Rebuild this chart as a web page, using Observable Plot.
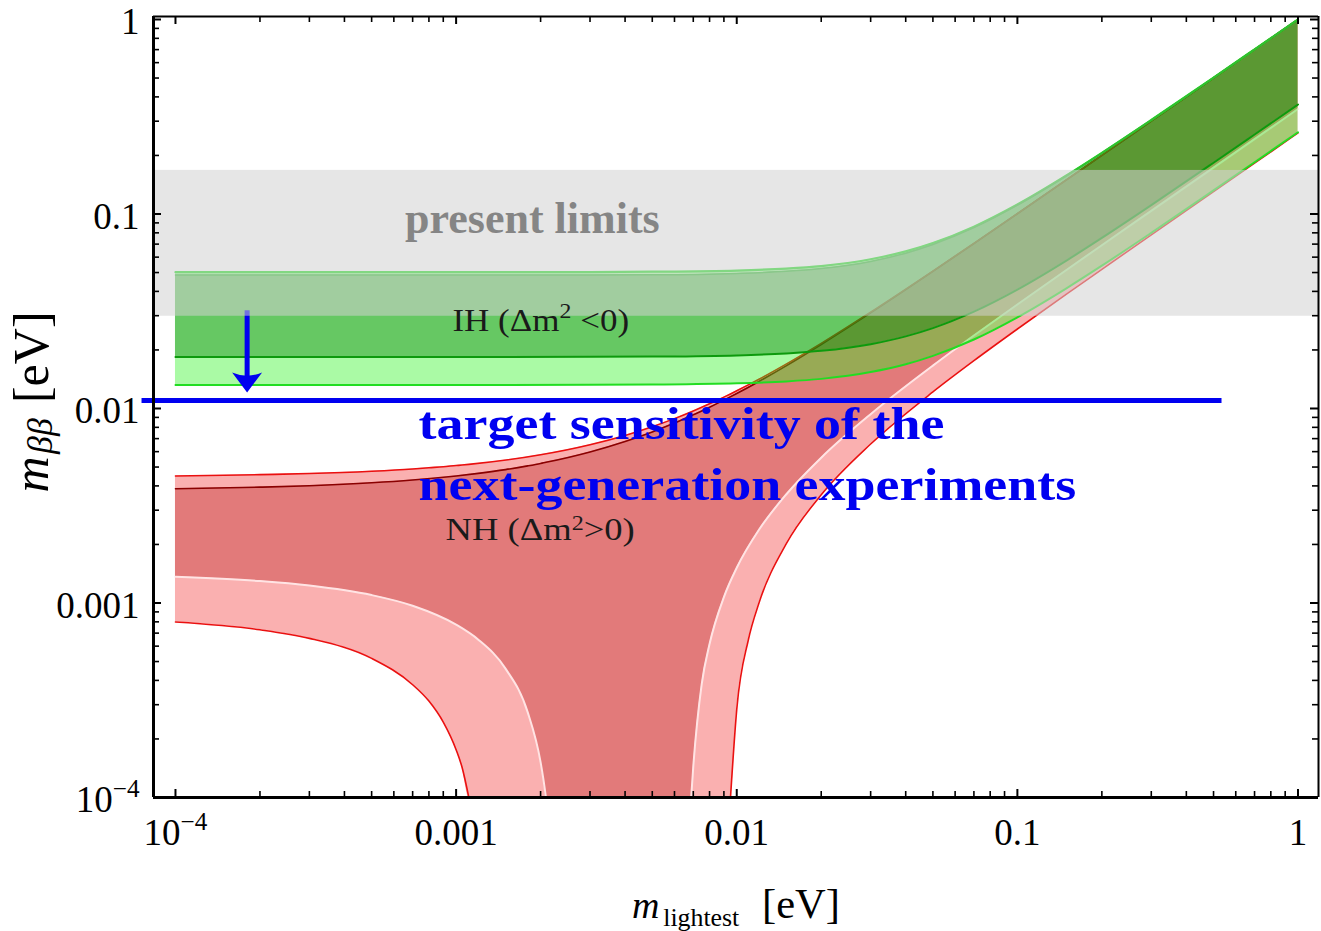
<!DOCTYPE html>
<html><head><meta charset="utf-8">
<script src="https://cdn.jsdelivr.net/npm/d3@7"></script>
<script src="https://cdn.jsdelivr.net/npm/@observablehq/plot@0.6"></script>
<style>html,body{margin:0;padding:0;background:#fff}#chart svg{display:block}</style>
</head><body><div id="chart"></div>
<script>
// ---------- data ----------
// Inverted hierarchy (IH) bands
const ihX    = [1e-4, 3e-4, 1e-3, 3e-3, 0.005, 0.01, 0.015, 0.02, 0.03, 0.04, 0.05, 0.07, 0.1, 0.15, 0.2, 0.3, 0.5, 0.7, 1];
const ih3Hi  = [0.0502, 0.0502, 0.0502, 0.0503, 0.0505, 0.0512, 0.0524, 0.0540, 0.0585, 0.0642, 0.0709, 0.0861, 0.1119, 0.1582, 0.2062, 0.3042, 0.5025, 0.7018, 1.001];
const ihBfHi = [0.0485, 0.0485, 0.0485, 0.0486, 0.0487, 0.0495, 0.0507, 0.0524, 0.0570, 0.0629, 0.0697, 0.0851, 0.1111, 0.1577, 0.2058, 0.3039, 0.5023, 0.7017, 1.001];
const ihBfLo = [0.0184, 0.0184, 0.0184, 0.01843, 0.01849, 0.01875, 0.0192, 0.01979, 0.02141, 0.02349, 0.02591, 0.03148, 0.04087, 0.05778, 0.0753, 0.1110, 0.1834, 0.2562, 0.3655];
const ih3Lo  = [0.0132, 0.0132, 0.0132, 0.01323, 0.01328, 0.01347, 0.01378, 0.0142, 0.01539, 0.01688, 0.01865, 0.02264, 0.02943, 0.04161, 0.05423, 0.0800, 0.1322, 0.1846, 0.2633];

// Normal hierarchy (NH), best-fit band (null = below the bottom of the axis)
const nhBfX  = [1e-4, 2e-4, 3e-4, 5e-4, 7e-4, 1e-3, 1.2e-3, 1.5e-3, 1.8e-3, 2e-3, 2.05e-3, 2.09e-3, 3e-3, 4e-3, 5e-3, 6e-3, 6.88e-3, 7e-3, 7.5e-3, 8e-3, 9e-3, 0.01, 0.012, 0.015, 0.02, 0.03, 0.05, 0.07, 0.1, 0.15, 0.2, 0.3, 0.5, 0.7, 1];
const nhBfLo = [0.001363, 0.001296, 0.001229, 0.001098, 0.000968, 0.000774, 0.000648, 0.00046, 0.000274, 0.000152, 0.000122, 0.0001, null, null, null, null, 0.0001, 0.000144, 0.000382, 0.000615, 0.001072, 0.001517, 0.002378, 0.003613, 0.005587, 0.009352, 0.01661, 0.02372, 0.03426, 0.05171, 0.0691, 0.1038, 0.1732, 0.2425, 0.3465];
const nhBfHi = [0.00387, 0.00394, 0.00401, 0.00415, 0.00429, 0.0045, 0.00464, 0.00485, 0.00507, 0.00522, 0.00526, 0.00529, 0.00598, 0.00677, 0.00758, 0.00842, 0.00917, 0.00928, 0.00971, 0.01015, 0.01104, 0.01194, 0.01377, 0.01657, 0.02133, 0.03101, 0.05067, 0.07047, 0.1003, 0.1501, 0.2002, 0.3001, 0.5001, 0.7, 1.0];

// NH 3-sigma band
const nh3X  = [1e-4, 2e-4, 3e-4, 5e-4, 7e-4, 8e-4, 9e-4, 1e-3, 1.05e-3, 1.11e-3, 2e-3, 3e-3, 4e-3, 5e-3, 6e-3, 7e-3, 8e-3, 9e-3, 9.5e-3, 0.01, 0.011, 0.012, 0.015, 0.02, 0.03, 0.05, 0.07, 0.1, 0.15, 0.2, 0.3, 0.5, 0.7, 1];
const nh3Lo = [0.000798, 0.000728, 0.000658, 0.000519, 0.00038, 0.000313, 0.000244, 0.000176, 0.000143, 0.0001, null, null, null, null, null, null, null, null, 0.0001, 0.000284, 0.000647, 0.000999, 0.002012, 0.0036, 0.006566, 0.01217, 0.01761, 0.02562, 0.03882, 0.05194, 0.07814, 0.1304, 0.1826, 0.261];
const nh3Hi = [0.0045, 0.00457, 0.00463, 0.00476, 0.00489, 0.00496, 0.00502, 0.00509, 0.00512, 0.00516, 0.00578, 0.00651, 0.00727, 0.00806, 0.00887, 0.00971, 0.01057, 0.01144, 0.01188, 0.01233, 0.01323, 0.01413, 0.0169, 0.02161, 0.03127, 0.05088, 0.07066, 0.1005, 0.1503, 0.2003, 0.3002, 0.5001, 0.7, 1.0];

// present limits (gray band) and target sensitivity
const presentLimits = [0.0298, 0.1675];
const targetSensitivity = 0.011;
const targetRange = [7.6e-5, 0.536];
const arrowX = 1.8e-4, arrowFrom = 0.0318, arrowTo = 0.0121;

// axes
const xDom = [8.35e-5, 1.183];
const yDom = [1e-4, 1.036];
const xTicks = [1e-4, 1e-3, 1e-2, 1e-1, 1];
const xTickLabels = ["10−4", "0.001", "0.01", "0.1", "1"];
const yTicks = [1e-4, 1e-3, 1e-2, 1e-1, 1];
const yTickLabels = ["10−4", "0.001", "0.01", "0.1", "1"];

// ---------- build tables ----------
const ih = ihX.map((x, i) => ({x, hi3: ih3Hi[i], hiBf: ihBfHi[i], loBf: ihBfLo[i], lo3: ih3Lo[i]}));
const nhBf = nhBfX.map((x, i) => ({x, lo: nhBfLo[i] ?? NaN, hi: nhBfHi[i]}));
const nh3 = nh3X.map((x, i) => ({x, lo: nh3Lo[i] ?? NaN, hi: nh3Hi[i]}));
const minorOf = ticks => ticks.slice(0, -1).flatMap(d => [2,3,4,5,6,7,8,9].map(k => d * k));
const xMinor = minorOf(xTicks), yMinor = minorOf(yTicks);

const W = 1321, H = 931, mL = 153, mR = 3, mT = 16, mB = 134;
const fW = W - mL - mR, fH = H - mT - mB;
const serif = "'Liberation Serif','Times New Roman',Times,serif";
const blue = "#0000f0";
const floorY = d => Number.isFinite(d.lo) ? d.lo : yDom[0];
const curve = "monotone-x";

const arrowHead = {
  draw(ctx, size) {
    const s = Math.sqrt(size / Math.PI);
    ctx.moveTo(0, s);
    ctx.lineTo(-1.5 * s, -s);
    ctx.quadraticCurveTo(0, -0.35 * s, 1.5 * s, -s);
    ctx.closePath();
  }
};

const chart = Plot.plot({
  width: W, height: H,
  marginLeft: mL, marginRight: mR, marginTop: mT, marginBottom: mB,
  x: {type: "log", domain: xDom, axis: null},
  y: {type: "log", domain: yDom, axis: null},
  style: {fontFamily: serif, background: "white", color: "black"},
  marks: [
    // NH bands
    Plot.areaY(nh3, {x: "x", y1: floorY, y2: "hi", fill: "#fab0b0", curve, clip: true}),
    Plot.areaY(nhBf, {x: "x", y1: floorY, y2: "hi", fill: "#e27a7a", curve, clip: true}),
    Plot.lineY(nhBf, {x: "x", y: "lo", stroke: "#ffe4e4", strokeWidth: 2, curve, clip: true}),
    Plot.lineY(nhBf, {x: "x", y: "hi", stroke: "#8a0000", strokeWidth: 1.6, curve}),
    Plot.lineY(nh3, {x: "x", y: "lo", stroke: "#ea1010", strokeWidth: 1.6, curve, clip: true}),
    Plot.lineY(nh3, {x: "x", y: "hi", stroke: "#ea1010", strokeWidth: 1.6, curve}),
    // IH bands
    Plot.areaY(ih, {x: "x", y1: "lo3", y2: "hi3", fill: "rgb(42,242,30)", fillOpacity: 0.4, curve}),
    Plot.areaY(ih, {x: "x", y1: "loBf", y2: "hiBf", fill: "rgb(0,125,0)", fillOpacity: 0.4, curve}),
    Plot.lineY(ih, {x: "x", y: "lo3", stroke: "#22dd22", strokeWidth: 2, curve}),
    Plot.lineY(ih, {x: "x", y: "hi3", stroke: "#22dd22", strokeWidth: 2.2, curve}),
    Plot.lineY(ih, {x: "x", y: "loBf", stroke: "#0d9a0d", strokeWidth: 2, curve}),
    Plot.lineY(ih, {x: "x", y: "hiBf", stroke: "#33bb33", strokeWidth: 1.5, curve}),
    // arrow
    Plot.ruleX([arrowX], {y1: arrowFrom, y2: arrowTo, stroke: blue, strokeWidth: 5, insetBottom: 12}),
    Plot.dot([arrowX], {x: d => d, y: arrowTo, symbol: arrowHead, r: 10, fill: blue, stroke: "none", dy: -10}),
    // present limits
    Plot.rect([presentLimits], {y1: d => d[0], y2: d => d[1], fill: "#d1d1d1", fillOpacity: 0.55}),
    // target sensitivity
    Plot.ruleY([targetSensitivity], {x1: targetRange[0], x2: targetRange[1], stroke: blue, strokeWidth: 5}),
    // annotations
    Plot.text(["present limits"], {x: 0.00187, y: 0.0948, fontSize: 44, fontWeight: "bold", fill: "#858585"}),
    Plot.text(["IH (Δm2 <0)"], {x: 0.00097, y: 0.0283, textAnchor: "start", fontSize: 31, fill: "#1a1a1a"}),
    Plot.text(["NH (Δm2>0)"], {x: 0.000917, y: 0.00236, textAnchor: "start", fontSize: 31, fill: "#1a1a1a"}),
    Plot.text(["target sensitivity of the"], {x: 0.000735, y: 0.00827, textAnchor: "start", fontSize: 46, fontWeight: "bold", fill: blue}),
    Plot.text(["next-generation experiments"], {x: 0.000735, y: 0.00405, textAnchor: "start", fontSize: 46, fontWeight: "bold", fill: blue}),
    // frame
    Plot.ruleY([yDom[0]], {stroke: "black", strokeWidth: 3}),
    Plot.ruleX([xDom[0]], {stroke: "black", strokeWidth: 3}),
    Plot.ruleY([yDom[1]], {stroke: "black", strokeWidth: 2}),
    Plot.ruleX([xDom[1]], {stroke: "black", strokeWidth: 2}),
    // ticks (inward)
    Plot.tickX(xTicks, {x: d => d, insetTop: fH - 8, stroke: "black", strokeWidth: 2}),
    Plot.tickX(xMinor, {x: d => d, insetTop: fH - 6, stroke: "black", strokeWidth: 1.6}),
    Plot.tickX(xTicks, {x: d => d, insetBottom: fH - 8, stroke: "black", strokeWidth: 2}),
    Plot.tickX(xMinor, {x: d => d, insetBottom: fH - 6, stroke: "black", strokeWidth: 1.6}),
    Plot.tickY(yTicks, {y: d => d, insetRight: fW - 8, stroke: "black", strokeWidth: 2}),
    Plot.tickY(yMinor, {y: d => d, insetRight: fW - 6, stroke: "black", strokeWidth: 1.6}),
    Plot.tickY(yTicks, {y: d => d, insetLeft: fW - 8, stroke: "black", strokeWidth: 2}),
    Plot.tickY(yMinor, {y: d => d, insetLeft: fW - 6, stroke: "black", strokeWidth: 1.6}),
    // tick labels
    Plot.text(xTicks, {x: d => d, text: (d, i) => xTickLabels[i], frameAnchor: "bottom", lineAnchor: "middle", textAnchor: "middle", dy: 36, fontSize: 37}),
    Plot.text(yTicks, {y: d => d, text: (d, i) => yTickLabels[i], frameAnchor: "left", lineAnchor: "middle", textAnchor: "end", dx: -14, dy: 3, fontSize: 37}),
    // axis titles
    Plot.text(["m lightest [eV]"], {frameAnchor: "bottom", lineAnchor: "middle", textAnchor: "middle", dy: 108, fontSize: 38}),
    Plot.text(["m ββ [eV]"], {frameAnchor: "left", lineAnchor: "middle", textAnchor: "middle", dx: -122, dy: -5, rotate: -90, fontSize: 50})
  ]
});

document.getElementById("chart").appendChild(chart);

// rich text: superscripts, subscripts, italics
const rich = {
  "10−4": [{t: "10"}, {t: "−4", shift: -0.42, size: 0.68}],
  "IH (Δm2 <0)": [{t: "IH (Δm"}, {t: "2", shift: -0.4, size: 0.68}, {t: " <0)"}],
  "NH (Δm2>0)": [{t: "NH (Δm"}, {t: "2", shift: -0.34, size: 0.66}, {t: ">0)"}],
  "m lightest [eV]": [{t: "m", italic: true}, {t: "lightest", shift: 0.22, size: 0.68, dx: 0.1}, {t: "[eV]", size: 1.12, dx: 0.6}],
  "m ββ [eV]": [{t: "m", italic: true}, {t: "ββ", shift: 0.08, size: 0.72, italic: true, dx: 0.05}, {t: "[eV]", dx: 0.3}]
};
// horizontal stretch of the overlaid annotation texts (they look wider than tall in the picture)
const stretch = {
  "target sensitivity of the": 1.173,
  "next-generation experiments": 1.173,
  "IH (Δm2 <0)": 1.13,
  "NH (Δm2>0)": 1.18
};
d3.select(chart).selectAll("text").each(function () {
  const key = this.textContent;
  const sx = stretch[key];
  if (sx) {
    const x = +this.getAttribute("x") || 0;
    const yAttr = this.getAttribute("y");
    let ty = 0;
    if (yAttr && !/em$/.test(yAttr)) { ty = +yAttr || 0; this.removeAttribute("y"); }
    if (x) this.removeAttribute("x");
    const tr = this.getAttribute("transform") || "";
    this.setAttribute("transform", `${tr} translate(${x},${ty}) scale(${sx},1)`);
  }
  const parts = rich[key];
  if (!parts) return;
  const fs = parseFloat(getComputedStyle(this).fontSize);
  const el = d3.select(this);
  el.text(null);
  let cur = 0;
  for (const p of parts) {
    const ts = el.append("tspan").text(p.t);
    const target = (p.shift || 0) * fs;
    if (target !== cur) ts.attr("dy", target - cur);
    cur = target;
    if (p.size) ts.attr("font-size", p.size * fs);
    if (p.italic) ts.attr("font-style", "italic");
    if (p.dx) ts.attr("dx", p.dx * fs);
  }
});
</script>
</body></html>
